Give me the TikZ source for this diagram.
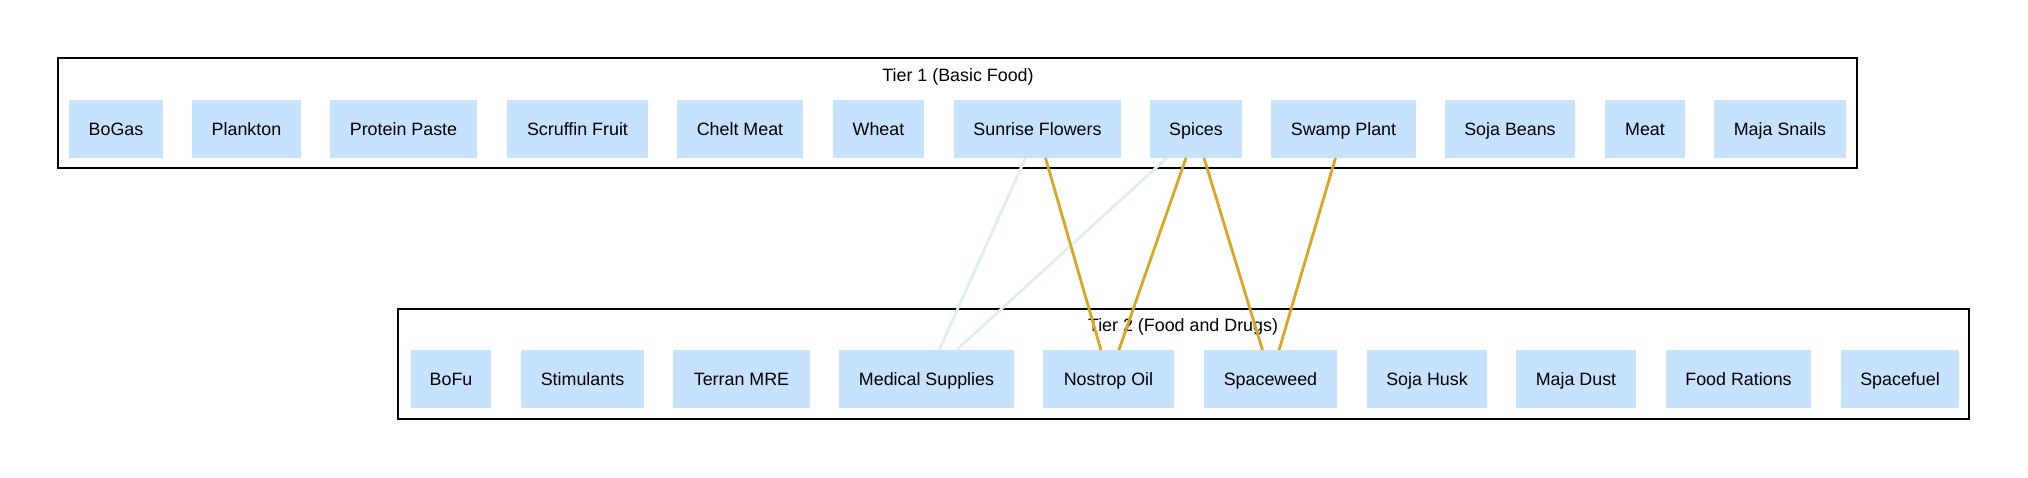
\documentclass[tikz,border=0pt]{standalone}
\usepackage{fontspec}
\setmainfont{Liberation Sans}
\usepackage{tikz}
\definecolor{itemfill}{HTML}{C6E2FF}
\definecolor{weaklink}{HTML}{E0EEEE}
\definecolor{stronglink}{HTML}{DAA520}

\begin{document}
\begin{tikzpicture}[
  x=0.75pt, y=-0.75pt,
  every node/.style={font=\fontsize{13.4}{16}\selectfont, outer sep=0pt, text height=9.6pt, text depth=0pt},
  item/.style={fill=itemfill, inner sep=0pt, minimum height=43.5pt},
  tier/.style={draw, line width=0.9pt},
  weak/.style={weaklink, line width=2.1pt},
  strong/.style={stronglink, line width=2.1pt},
]
\useasboundingbox (0,0) rectangle (2028,478);

% tiers
\draw[tier] (58,58) rectangle (1857,168);
\draw[tier] (398,309) rectangle (1969,419);
\node (tier1) at (958,75) {Tier 1 (Basic Food)};
\node (tier2) at (1183,325) {Tier 2 (Food and Drugs)};

\foreach[evaluate=\xa as \mx using {(\xa+\xb)/2}, evaluate=\xa as \w using {(\xb-\xa)*0.75}] \n/\lbl/\xa/\xb in {
  bogas/BoGas/69/163, plankton/Plankton/192/301, paste/Protein Paste/330/477,
  scruffin/Scruffin Fruit/507/648, chelt/Chelt Meat/677/803, wheat/Wheat/833/924,
  sunrise/Sunrise Flowers/954/1121, spices/Spices/1150/1242, swamp/Swamp Plant/1271/1416,
  sojabeans/Soja Beans/1445/1575, meat/Meat/1605/1685, snails/Maja Snails/1714/1846}
{
  \node[item, minimum width=\w pt] (\n) at (\mx,129) {\lbl};
}

\foreach[evaluate=\xa as \mx using {(\xa+\xb)/2}, evaluate=\xa as \w using {(\xb-\xa)*0.75}] \n/\lbl/\xa/\xb in {
  bofu/BoFu/411/491, stimulants/Stimulants/521/644, mre/Terran MRE/673/810,
  medical/Medical Supplies/839/1014, nostrop/Nostrop Oil/1043/1174, spaceweed/Spaceweed/1204/1337,
  sojahusk/Soja Husk/1367/1487, majadust/Maja Dust/1516/1636, rations/Food Rations/1666/1811,
  spacefuel/Spacefuel/1841/1959}
{
  \node[item, minimum width=\w pt] (\n) at (\mx,379) {\lbl};
}

% links
\draw[weak] ([xshift=-9pt]sunrise.south) -- ([xshift=9.5pt]medical.north);
\draw[weak] ([xshift=-22pt]spices.south) -- ([xshift=22.5pt]medical.north);
\draw[strong] ([xshift=6pt]sunrise.south) -- ([xshift=-5.7pt]nostrop.north);
\draw[strong] ([xshift=-7.5pt]spices.south) -- ([xshift=7.8pt]nostrop.north);
\draw[strong] ([xshift=6pt]spices.south) -- ([xshift=-6pt]spaceweed.north);
\draw[strong] ([xshift=-6pt]swamp.south) -- ([xshift=6.4pt]spaceweed.north);
\end{tikzpicture}
\end{document}
